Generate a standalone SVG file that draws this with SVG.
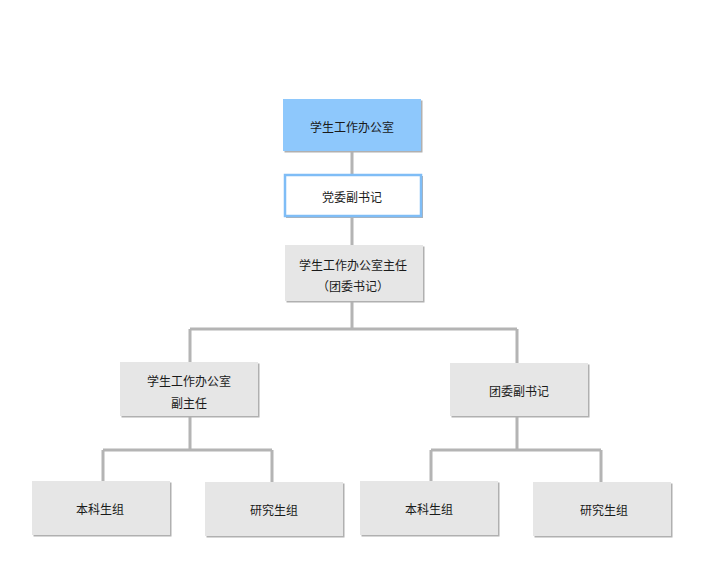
<svg xmlns="http://www.w3.org/2000/svg" width="709" height="567" viewBox="0 0 709 567">
<style>
.sh{fill:#b0b0b0}
.box{fill:#e6e6e6}
.t{font-family:"Noto Sans CJK SC","Noto Sans CJK TC",sans-serif;font-size:12px;fill:#1a1a1a;text-anchor:middle;dominant-baseline:central}
.c{fill:none;stroke:#b4b4b4;stroke-width:3}
</style>
<rect width="709" height="567" fill="#ffffff"/>
<g id="connectors">
<path class="c" d="M352 151V175M352 216V245M352 301V329M190 329H517M190 329V362M517 329V363"/>
<path class="c" d="M190 416V450M103 450H272M103 450V481M272 450V482"/>
<path class="c" d="M517 416V450M431 450H601M431 450V481M601 450V482"/>
</g>
<g id="n1">
<rect class="sh" x="284.5" y="100.5" width="138" height="52"/>
<rect x="283" y="99" width="138" height="52" fill="#8ec8fc"/>
<text class="t" x="352" y="126">学生工作办公室</text>
</g>
<g id="n2">
<rect class="sh" x="286" y="176" width="137" height="42"/>
<rect x="285" y="175" width="136" height="41" fill="#ffffff" stroke="#7fbdf6" stroke-width="2.5"/>
<text class="t" x="352" y="196">党委副书记</text>
</g>
<g id="n3">
<rect class="sh" x="286.5" y="246.5" width="138" height="56"/>
<rect class="box" x="285" y="245" width="138" height="56"/>
<text class="t" x="353" y="264">学生工作办公室主任</text>
<text class="t" x="353" y="285">（团委书记）</text>
</g>
<g id="n4">
<rect class="sh" x="121.5" y="363.5" width="138" height="54"/>
<rect class="box" x="120" y="362" width="138" height="54"/>
<text class="t" x="189" y="380">学生工作办公室</text>
<text class="t" x="189" y="402">副主任</text>
</g>
<g id="n5">
<rect class="sh" x="451.5" y="364.5" width="138" height="53"/>
<rect class="box" x="450" y="363" width="138" height="53"/>
<text class="t" x="519" y="390">团委副书记</text>
</g>
<g id="n6">
<rect class="sh" x="33.5" y="482.5" width="138" height="54"/>
<rect class="box" x="32" y="481" width="138" height="54"/>
<text class="t" x="100" y="508">本科生组</text>
</g>
<g id="n7">
<rect class="sh" x="206.5" y="483.5" width="138" height="54"/>
<rect class="box" x="205" y="482" width="138" height="54"/>
<text class="t" x="274" y="509">研究生组</text>
</g>
<g id="n8">
<rect class="sh" x="361.5" y="482.5" width="138" height="54"/>
<rect class="box" x="360" y="481" width="138" height="54"/>
<text class="t" x="429" y="508">本科生组</text>
</g>
<g id="n9">
<rect class="sh" x="534.5" y="483.5" width="138" height="54"/>
<rect class="box" x="533" y="482" width="138" height="54"/>
<text class="t" x="604" y="509">研究生组</text>
</g>
</svg>
